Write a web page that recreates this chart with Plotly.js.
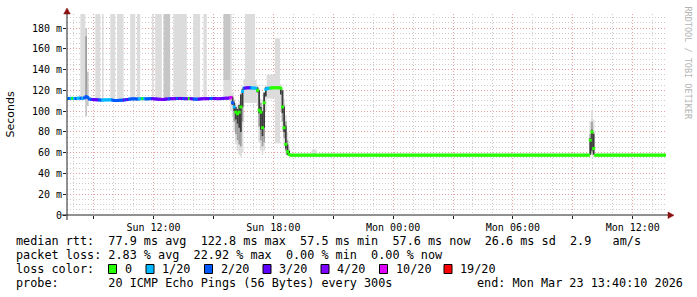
<!DOCTYPE html>
<html><head><meta charset="utf-8">
<script src="https://cdn.plot.ly/plotly-3.0.1.min.js"></script>
<style>html,body{margin:0;padding:0;background:#fff}#chart{width:697px;height:297px}</style>
</head><body><div id="chart"></div>
<script>
// ---- time frame ----
const startTime = '2026-03-22 07:40';
const endTime = '2026-03-23 13:40';
const stepMinutes = 5;

// ---- median rtt (ms), one value per 5-minute step, one row per hour ----
const medianRtt = [
  112.2,112.2,112.3,112.3,112.2,112.2,112.4,112.5,112.4,112.3,112.8,114.0, // 07:40
  113.0,111.6,111.3,111.2,111.0,111.0,110.8,110.8,110.6,110.6,110.8,110.8, // 08:40
  110.8,110.8,111.0,110.5,110.2,110.2,110.2,110.4,110.5,110.5,110.8,111.0, // 09:40
  111.2,111.5,111.7,111.8,111.8,111.8,111.6,111.8,112.0,112.0,112.0,111.8, // 10:40
  111.8,112.0,112.0,112.0,111.8,111.7,111.5,111.4,111.3,111.2,111.3,111.6, // 11:40
  111.7,111.8,112.0,112.0,112.0,112.1,112.2,112.2,112.2,112.1,112.0,112.0, // 12:40
  112.0,112.2,112.0,111.8,111.6,111.5,111.5,111.6,111.8,112.0,112.0,112.0, // 13:40
  112.0,112.1,112.2,112.2,112.2,112.1,112.0,112.0,112.1,112.2,112.3,112.4, // 14:40
  112.4,112.6,113.2,108.0,104.0,99.0,97.5,99.0,104.0,119.0,122.0,122.3,    // 15:40
  122.5,122.5,122.4,122.3,122.2,122.0,120.0,101.0,99.0,84.0,108.0,121.0,   // 16:40
  122.0,122.0,122.3,122.5,122.5,122.5,122.5,122.5,122.0,104.0,84.0,68.0,   // 17:40
  61.0,58.2,57.6,57.6,57.6,57.6,57.6,57.6,57.6,57.6,57.6,57.6,             // 18:40
  57.6,57.6,57.6,57.6,57.6,57.6,57.6,57.6,57.6,57.6,57.6,57.6,             // 19:40
  57.6,57.6,57.6,57.6,57.6,57.6,57.6,57.6,57.6,57.6,57.6,57.6,             // 20:40
  57.6,57.6,57.6,57.6,57.6,57.6,57.6,57.6,57.6,57.6,57.6,57.6,             // 21:40
  57.6,57.6,57.6,57.6,57.6,57.6,57.6,57.6,57.6,57.6,57.6,57.6,             // 22:40
  57.6,57.6,57.6,57.6,57.6,57.6,57.6,57.6,57.6,57.6,57.6,57.6,             // 23:40
  57.6,57.6,57.6,57.6,57.6,57.6,57.6,57.6,57.6,57.6,57.6,57.6,             // 00:40
  57.6,57.6,57.6,57.6,57.6,57.6,57.6,57.6,57.6,57.6,57.6,57.6,             // 01:40
  57.6,57.6,57.6,57.6,57.6,57.6,57.6,57.6,57.6,57.6,57.6,57.6,             // 02:40
  57.6,57.6,57.6,57.6,57.6,57.6,57.6,57.6,57.6,57.6,57.6,57.6,             // 03:40
  57.6,57.6,57.6,57.6,57.6,57.6,57.6,57.6,57.6,57.6,57.6,57.6,             // 04:40
  57.6,57.6,57.6,57.6,57.6,57.6,57.6,57.6,57.6,57.6,57.6,57.6,             // 05:40
  57.6,57.6,57.6,57.6,57.6,57.6,57.6,57.6,57.6,57.6,57.6,57.6,             // 06:40
  57.6,57.6,57.6,57.6,57.6,57.6,57.6,57.6,57.6,57.6,57.6,57.6,             // 07:40
  57.6,57.6,57.6,57.6,57.6,57.6,57.6,57.6,57.6,57.6,57.6,57.6,             // 08:40
  57.6,57.6,72.0,80.0,64.0,57.6,57.6,57.6,57.6,57.6,57.6,57.6,             // 09:40
  57.6,57.6,57.6,57.6,57.6,57.6,57.6,57.6,57.6,57.6,57.6,57.6,             // 10:40
  57.6,57.6,57.6,57.6,57.6,57.6,57.6,57.6,57.6,57.6,57.6,57.6,             // 11:40
  57.6,57.6,57.6,57.6,57.6,57.6,57.6,57.6,57.6,57.6,57.6,57.6              // 12:40
];

// ---- lost pings out of 20, per 5-minute step ----
const lossCount = [
  1,2,1,0,1,2,1,1,2,1,2,2,
  2,2,2,3,3,3,3,2,2,1,1,1,
  1,1,1,2,2,2,2,2,2,2,3,2,
  3,2,2,2,2,2,2,1,1,0,1,2,
  2,2,2,3,3,3,3,3,4,4,3,3,
  3,2,3,3,4,3,2,3,3,3,2,3,
  3,0,3,3,2,2,2,3,3,3,4,3,
  3,3,2,2,3,3,4,4,3,3,3,4,
  3,4,10,2,1,0,0,0,0,1,2,3,
  3,3,2,1,1,1,0,0,0,0,0,1,
  1,1,0,0,0,0,0,0,0,0,0,0,
  0,0,0,0,0,0,0,0,0,0,0,0, 0,0,0,0,0,0,0,0,0,0,0,0, 0,0,0,0,0,0,0,0,0,0,0,0,
  0,0,0,0,0,0,0,0,0,0,0,0, 0,0,0,0,0,0,0,0,0,0,0,0, 0,0,0,0,0,0,0,0,0,0,0,0,
  0,0,0,0,0,0,0,0,0,0,0,0, 0,0,0,0,0,0,0,0,0,0,0,0, 0,0,0,0,0,0,0,0,0,0,0,0,
  0,0,0,0,0,0,0,0,0,0,0,0, 0,0,0,0,0,0,0,0,0,0,0,0, 0,0,0,0,0,0,0,0,0,0,0,0,
  0,0,0,0,0,0,0,0,0,0,0,0, 0,0,0,0,0,0,0,0,0,0,0,0, 0,0,0,0,0,0,0,0,0,0,0,0,
  0,0,0,0,0,0,0,0,0,0,0,0, 0,0,0,0,0,0,0,0,0,0,0,0, 0,0,0,0,0,0,0,0,0,0,0,0,
  0,0,0,0,0,0,0,0,0,0,0,0
];

// ---- smoke (ping spread) : start, end, low ms, high ms, density level ----
const smokeStart = [
  '2026-03-22 08:20','2026-03-22 08:35','2026-03-22 08:35','2026-03-22 08:40',
  '2026-03-22 09:05','2026-03-22 09:25','2026-03-22 09:50','2026-03-22 10:10',
  '2026-03-22 10:50','2026-03-22 11:10','2026-03-22 11:55','2026-03-22 12:05',
  '2026-03-22 12:30','2026-03-22 13:00','2026-03-22 14:00','2026-03-22 14:30',
  '2026-03-22 15:30','2026-03-22 15:30','2026-03-22 15:50',
  '2026-03-22 15:55','2026-03-22 15:55',
  '2026-03-22 16:00','2026-03-22 16:00','2026-03-22 16:00',
  '2026-03-22 16:05','2026-03-22 16:05','2026-03-22 16:05',
  '2026-03-22 16:10','2026-03-22 16:10','2026-03-22 16:10',
  '2026-03-22 16:15','2026-03-22 16:15','2026-03-22 16:15',
  '2026-03-22 16:20','2026-03-22 16:20','2026-03-22 16:20',
  '2026-03-22 16:25','2026-03-22 16:25','2026-03-22 16:25',
  '2026-03-22 16:30','2026-03-22 16:35',
  '2026-03-22 17:10','2026-03-22 17:10',
  '2026-03-22 17:15','2026-03-22 17:15','2026-03-22 17:15',
  '2026-03-22 17:20','2026-03-22 17:20','2026-03-22 17:20',
  '2026-03-22 17:25','2026-03-22 17:25','2026-03-22 17:25',
  '2026-03-22 17:30','2026-03-22 17:30','2026-03-22 17:30',
  '2026-03-22 17:35','2026-03-22 17:35',
  '2026-03-22 17:40','2026-03-22 18:05',
  '2026-03-22 18:20','2026-03-22 18:20',
  '2026-03-22 18:25','2026-03-22 18:25','2026-03-22 18:25',
  '2026-03-22 18:30','2026-03-22 18:30','2026-03-22 18:30',
  '2026-03-22 18:35','2026-03-22 18:35','2026-03-22 18:35',
  '2026-03-22 18:40','2026-03-22 18:40','2026-03-22 18:40',
  '2026-03-22 18:45','2026-03-22 18:45',
  '2026-03-22 19:55',
  '2026-03-23 09:50','2026-03-23 09:50','2026-03-23 09:50',
  '2026-03-23 09:55','2026-03-23 09:55','2026-03-23 09:55',
  '2026-03-23 10:00','2026-03-23 10:00','2026-03-23 10:00'
];
const smokeEnd = [
  '2026-03-22 08:35','2026-03-22 08:40','2026-03-22 08:40','2026-03-22 08:45',
  '2026-03-22 09:20','2026-03-22 09:30','2026-03-22 10:05','2026-03-22 10:30',
  '2026-03-22 11:05','2026-03-22 11:20','2026-03-22 12:00','2026-03-22 12:25',
  '2026-03-22 12:50','2026-03-22 13:40','2026-03-22 14:20','2026-03-22 14:40',
  '2026-03-22 15:50','2026-03-22 15:50','2026-03-22 15:55',
  '2026-03-22 16:00','2026-03-22 16:00',
  '2026-03-22 16:05','2026-03-22 16:05','2026-03-22 16:05',
  '2026-03-22 16:10','2026-03-22 16:10','2026-03-22 16:10',
  '2026-03-22 16:15','2026-03-22 16:15','2026-03-22 16:15',
  '2026-03-22 16:20','2026-03-22 16:20','2026-03-22 16:20',
  '2026-03-22 16:25','2026-03-22 16:25','2026-03-22 16:25',
  '2026-03-22 16:30','2026-03-22 16:30','2026-03-22 16:30',
  '2026-03-22 17:10','2026-03-22 17:05',
  '2026-03-22 17:15','2026-03-22 17:15',
  '2026-03-22 17:20','2026-03-22 17:20','2026-03-22 17:20',
  '2026-03-22 17:25','2026-03-22 17:25','2026-03-22 17:25',
  '2026-03-22 17:30','2026-03-22 17:30','2026-03-22 17:30',
  '2026-03-22 17:35','2026-03-22 17:35','2026-03-22 17:35',
  '2026-03-22 17:40','2026-03-22 17:40',
  '2026-03-22 18:20','2026-03-22 18:20',
  '2026-03-22 18:25','2026-03-22 18:25',
  '2026-03-22 18:30','2026-03-22 18:30','2026-03-22 18:30',
  '2026-03-22 18:35','2026-03-22 18:35','2026-03-22 18:35',
  '2026-03-22 18:40','2026-03-22 18:40','2026-03-22 18:40',
  '2026-03-22 18:45','2026-03-22 18:45','2026-03-22 18:45',
  '2026-03-22 18:50','2026-03-22 18:50',
  '2026-03-22 20:10',
  '2026-03-23 09:55','2026-03-23 09:55','2026-03-23 09:55',
  '2026-03-23 10:00','2026-03-23 10:00','2026-03-23 10:00',
  '2026-03-23 10:05','2026-03-23 10:05','2026-03-23 10:05'
];
const smokeLow = [
  112,95,112,105, 111,111,111,111, 111,111,111,111, 111,111,111,111,
  112,130,100,
  95,106,
  80,90,100, 68,78,92, 62,72,88, 58,68,84, 56,66,80, 60,90,104,
  108,122,
  105,118,
  70,85,98, 62,72,82, 58,66,76, 62,70,84,
  100,114,
  112,69,
  100,116,
  80,90,98, 66,74,80, 58,62,64, 57,58,58,
  57,57,
  57,
  58,58,58, 58,60,62, 58,58,58
];
const smokeHigh = [
  200,180,172,138, 200,200,200,200, 200,200,200,200, 200,200,200,200,
  130,200,200,
  118,114,
  112,110,108, 108,104,104, 106,102,102, 110,106,106, 118,116,116, 124,122,121,
  130,200,
  125,123,
  122,120,120, 112,108,104, 104,100,100, 118,114,118,
  124,123,
  135,170,
  126,123,
  122,120,120, 112,106,104, 96,90,86, 80,72,68,
  66,62,
  63,
  90,78,74, 101,90,82, 92,80,78
];
const smokeLevel = [
  1,2,3,2, 1,1,1,1, 1,1,1,1, 2,1,1,1,
  1,2,1,
  1,4,
  1,3,4, 1,3,4, 1,3,4, 1,3,4, 1,3,4, 1,3,4,
  1,1,
  1,4,
  1,3,4, 1,3,4, 1,3,4, 1,3,4,
  1,4,
  1,1,
  1,4,
  1,3,4, 1,3,4, 1,3,4, 1,3,4,
  1,4,
  1,
  1,3,4, 1,3,4, 1,3,4
];

// ---- axis ticks ----
const xTickVals = ['2026-03-22 09:00','2026-03-22 12:00','2026-03-22 15:00','2026-03-22 18:00','2026-03-22 21:00',
                   '2026-03-23 00:00','2026-03-23 03:00','2026-03-23 06:00','2026-03-23 09:00','2026-03-23 12:00'];
const xTickText = ['','Sun 12:00','','Sun 18:00','','Mon 00:00','','Mon 06:00','','Mon 12:00'];
const yTickVals = [0,20,40,60,80,100,120,140,160,180];
const yTickText = ['0','20 m','40 m','60 m','80 m','100 m','120 m','140 m','160 m','180 m'];

// ---- legend / statistics text ----
const statLines = [
  'median rtt:  77.9 ms avg  122.8 ms max  57.5 ms min  57.6 ms now  26.6 ms sd  2.9   am/s',
  'packet loss: 2.83 % avg  22.92 % max  0.00 % min  0.00 % now'
];
const lossLegendValues = [0, 1, 2, 3, 4, 10, 19];
const lossLegendLabels = ['0','1/20','2/20','3/20','4/20','10/20','19/20'];
const probeText = 'probe:       20 ICMP Echo Pings (56 Bytes) every 300s';
const endText = 'end: Mon Mar 23 13:40:10 2026';

// ---------------- drawing ----------------
const lossColors = {0:'#26ff00',1:'#00b8ff',2:'#0059ff',3:'#5e00ff',4:'#7e00ff',10:'#dd00ff',19:'#ff0000'};
function lossColor(l){ const ks=[19,10,4,3,2,1,0]; for(const k of ks){ if(l>=k) return lossColors[k]; } return lossColors[0]; }
const levelColors = {1:'#dcdcdc',2:'#c6c6c6',3:'#9c9c9c',4:'#3a3a3a'};
const toMs = s => Date.parse(s.replace(' ','T')+':00Z');
const t0 = toMs(startTime);
const stepMs = stepMinutes*60000;
const medX = medianRtt.map((_, i) => t0 + (i + 0.5)*stepMs);

const traces = [];
[1,2,3,4].forEach(lv => {
  const idx = smokeLevel.map((l,i)=>l===lv?i:-1).filter(i=>i>=0);
  traces.push({
    type:'bar', x: idx.map(i=>smokeStart[i]), base: idx.map(i=>smokeLow[i]),
    y: idx.map(i=>smokeHigh[i]-smokeLow[i]),
    width: idx.map(i=>toMs(smokeEnd[i])-toMs(smokeStart[i])), offset: 0,
    marker:{color: levelColors[lv], line:{width:0}}, hoverinfo:'skip'
  });
});
traces.push({
  type:'scatter', mode:'markers', x: medX, y: medianRtt,
  marker:{symbol:'square', size:3, color: lossCount.map(lossColor), line:{width:0}},
  hoverinfo:'skip'
});

const W = 697, H = 297, L = 67, R = 31, T = 14, B = 82;
const PW = W - L - R, PH = H - T - B;
const px = x => (x - L) / PW;            // pixel -> paper x
const py = y => (H - B - y) / PH;        // pixel -> paper y
const mono = 'DejaVu Sans Mono, monospace';
const nb = s => s.replace(/ /g, '\u00a0');
const annotations = [];
const textY = [241, 255, 269, 283];
const baseY = H - B;
statLines.forEach((s,k)=>annotations.push({xref:'paper',yref:'paper',x:0,y:0,xanchor:'left',yanchor:'middle',
  xshift:16-L-2, yshift:-(textY[k]-baseY), text:nb(s), showarrow:false, font:{family:mono,size:11.8,color:'#000'}}));
annotations.push({xref:'paper',yref:'paper',x:0,y:0,xanchor:'left',yanchor:'middle',xshift:16-L-2,yshift:-(textY[2]-baseY),
  text:nb('loss color:'),showarrow:false,font:{family:mono,size:11.8,color:'#000'}});
annotations.push({xref:'paper',yref:'paper',x:0,y:0,xanchor:'left',yanchor:'middle',xshift:16-L-2,yshift:-(textY[3]-baseY),
  text:nb(probeText),showarrow:false,font:{family:mono,size:11.8,color:'#000'}});
annotations.push({xref:'paper',yref:'paper',x:1,y:0,xanchor:'right',yanchor:'middle',xshift:683-(W-R)+2,yshift:-(textY[3]-baseY),
  text:nb(endText),showarrow:false,font:{family:mono,size:11.8,color:'#000'}});
const boxX = [108.5, 146, 204.5, 263, 321, 379.5, 444];
const shapes = [];
lossLegendValues.forEach((v,k)=>{
  shapes.push({type:'rect',xref:'paper',yref:'paper',
    x0:px(boxX[k]), x1:px(boxX[k]+8), y0:py(273.5), y1:py(264.5),
    fillcolor:lossColors[v], line:{color:'#000',width:1}});
  annotations.push({xref:'paper',yref:'paper',x:0,y:0,xanchor:'left',yanchor:'middle',xshift:boxX[k]-L+14,yshift:-(textY[2]-baseY),
    text:lossLegendLabels[k],showarrow:false,font:{family:mono,size:11.8,color:'#000'}});
});
// y title and watermark
annotations.push({xref:'paper',yref:'paper',x:0,y:0.5,xanchor:'center',yanchor:'middle',xshift:10-L,
  text:'Seconds',textangle:-90,showarrow:false,font:{family:'DejaVu Sans, sans-serif',size:11,color:'#000'}});
annotations.push({xref:'paper',yref:'paper',x:1,y:1,xanchor:'center',yanchor:'top',xshift:688-(W-R),yshift:T-4,
  text:'RRDTOOL / TOBI OETIKER',textangle:90,showarrow:false,font:{family:mono,size:8.5,color:'#b4b4b4'}});
// axis lines and arrows (paper coordinates)
shapes.push({type:'line',xref:'paper',yref:'paper',x0:px(62),x1:px(669),y0:0,y1:0,line:{color:'#222',width:1}});
shapes.push({type:'line',xref:'paper',yref:'paper',x0:0,x1:0,y0:py(220),y1:py(12),line:{color:'#222',width:1}});
shapes.push({type:'path',xref:'paper',yref:'paper',
  path:`M ${px(668)} ${py(212)} L ${px(674)} ${py(215.3)} L ${px(668)} ${py(218.6)} Z`,
  fillcolor:'#8b1010',line:{color:'#8b1010',width:0.5}});
shapes.push({type:'path',xref:'paper',yref:'paper',
  path:`M ${px(63.7)} ${py(14)} L ${px(67)} ${py(8)} L ${px(70.3)} ${py(14)} Z`,
  fillcolor:'#8b1010',line:{color:'#8b1010',width:0.5}});

const gridDash = '1px,2px';
const layout = {
  width: W, height: H,
  margin:{l:L, r:R, t:T, b:B, pad:0},
  paper_bgcolor:'#ffffff', plot_bgcolor:'#ffffff',
  showlegend:false, barmode:'overlay',
  xaxis:{type:'date', range:[startTime, endTime], tickmode:'array', tickvals:xTickVals, ticktext:xTickText,
    showgrid:true, gridcolor:'#e8a0a0', griddash:gridDash, gridwidth:1,
    minor:{dtick:3600000, tick0:'2026-03-22 00:00', showgrid:true, gridcolor:'#cccccc', griddash:gridDash, gridwidth:1},
    ticks:'outside', ticklen:3, tickcolor:'#222', showline:false, zeroline:false,
    tickfont:{family:mono, size:10, color:'#000'}, fixedrange:true},
  yaxis:{range:[0,193.5], tickmode:'array', tickvals:yTickVals, ticktext:yTickText,
    showgrid:true, gridcolor:'#e8a0a0', griddash:gridDash, gridwidth:1,
    minor:{dtick:5, tick0:0, showgrid:true, gridcolor:'#cccccc', griddash:gridDash, gridwidth:1},
    ticks:'outside', ticklen:3, tickcolor:'#222', ticklabelstandoff:-1, showline:false, zeroline:false,
    tickfont:{family:mono, size:10, color:'#000'}, fixedrange:true},
  shapes, annotations
};
Plotly.newPlot('chart', traces, layout, {staticPlot:true, displayModeBar:false});
</script></body></html>
